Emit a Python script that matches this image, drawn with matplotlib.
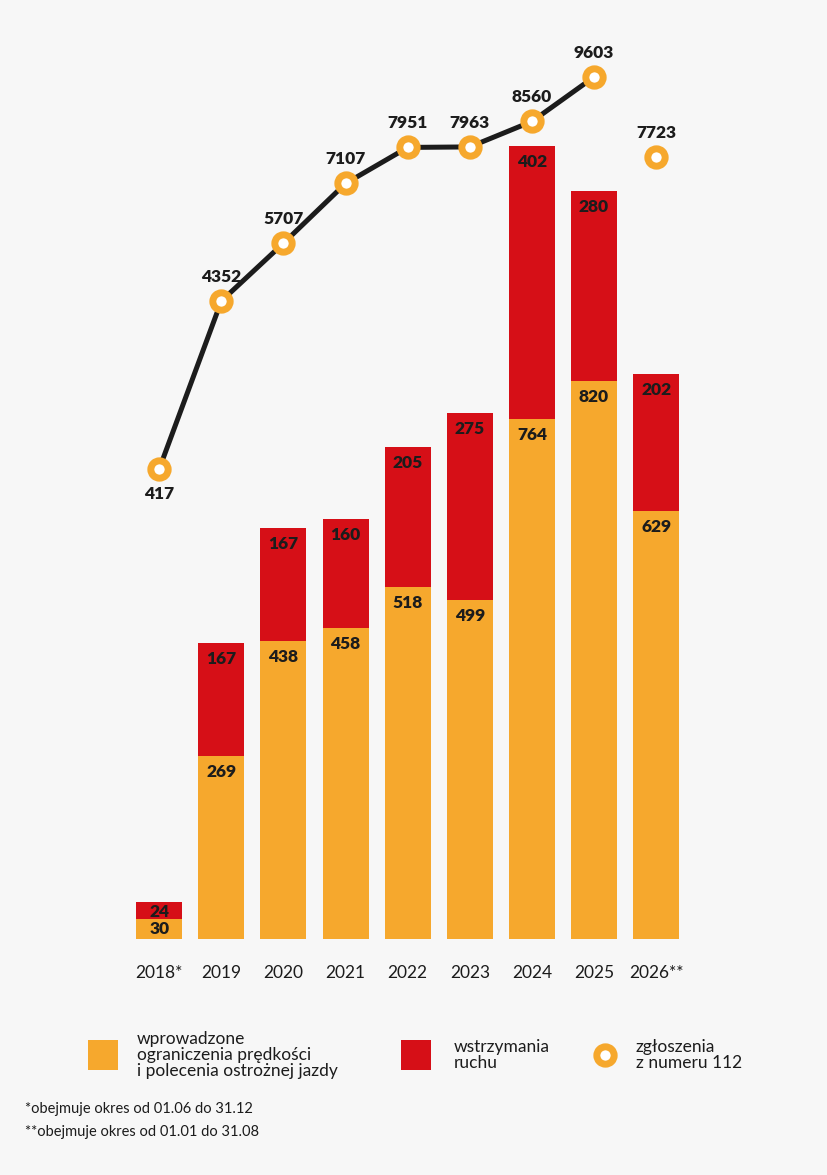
import numpy as np
import matplotlib.pyplot as plt
from matplotlib.patches import Rectangle
from matplotlib.lines import Line2D

years = ['2018*', '2019', '2020', '2021', '2022', '2023', '2024', '2025', '2026**']
limits = [30, 269, 438, 458, 518, 499, 764, 820, 629]      # wprowadzone ograniczenia
stops = [24, 167, 167, 160, 205, 275, 402, 280, 202]       # wstrzymania ruchu
calls = [417, 4352, 5707, 7107, 7951, 7963, 8560, 9603]    # zgloszenia 112 (2018-2025)
calls_2026 = 7723

colorOrange = '#F6A82D'
colorRed = '#D60F17'
colorDark = '#1c1c1c'
bg = '#F7F7F7'

plt.rcParams['font.family'] = ['Lato', 'DejaVu Sans']

fig = plt.figure(figsize=(8.27, 11.75), dpi=100, facecolor=bg)
ax = fig.add_axes([0.155, 1 - 939 / 1175, 0.676, (939 - 60) / 1175])
ax.set_facecolor('none')

x = np.arange(len(years))
limits = np.array(limits)
stops = np.array(stops)
width = 0.74

ax.bar(x, limits, width=width, color=colorOrange, edgecolor='none')
ax.bar(x, stops, bottom=limits, width=width, color=colorRed, edgecolor='none')

lab = dict(ha='center', va='center', fontsize=12.5, fontweight='heavy', color=colorDark)
for i in range(len(x)):
    off = -10 if limits[i] + stops[i] < 100 else -16
    ax.annotate(str(limits[i]), (x[i], limits[i]), xytext=(0, off), textcoords='offset pixels', **lab)
    ax.annotate(str(stops[i]), (x[i], limits[i] + stops[i]), xytext=(0, off), textcoords='offset pixels', **lab)

ax.set_xlim(-0.5, len(x) - 0.5)
ax.set_ylim(0, (939 - 60) / 0.68)
ax.set_xticks(x)
ax.set_xticklabels(years, fontsize=12.5, color=colorDark)
ax.tick_params(axis='x', length=0, pad=19)
ax.set_yticks([])
for s in ax.spines.values():
    s.set_visible(False)

# line on its own scale
ax2 = ax.twinx()
ax2.set_ylim(-10600, 10000)
ax2.set_yticks([])
for s in ax2.spines.values():
    s.set_visible(False)

mk = dict(marker='o', markersize=12.5, markeredgewidth=5, markeredgecolor=colorOrange,
          markerfacecolor='white')
ax2.plot(x[:len(calls)], calls, color=colorDark, linewidth=3.6, zorder=3, **mk)
ax2.plot([x[-1]], [calls_2026], linestyle='none', zorder=3, **mk)

for i, v in enumerate(calls + [calls_2026]):
    off = -25 if i == 0 else 24
    ax2.annotate(str(v), (x[i], v), xytext=(0, off), textcoords='offset pixels', **lab)

# legend
def px(xp, yp):
    return xp / 827, 1 - yp / 1175

fig.add_artist(Rectangle(px(88, 1070), 30 / 827, 30 / 1175, transform=fig.transFigure,
                         facecolor=colorOrange, edgecolor='none'))
fig.add_artist(Rectangle(px(401, 1070), 30 / 827, 30 / 1175, transform=fig.transFigure,
                         facecolor=colorRed, edgecolor='none'))
fig.add_artist(Line2D([605 / 827], [1 - 1055 / 1175], transform=fig.transFigure, **mk))

lt = dict(fontsize=12.5, color=colorDark, va='center', ha='left', linespacing=1.0)
fig.text(*px(137, 1055), 'wprowadzone\nograniczenia prędkości\ni polecenia ostrożnej jazdy', **lt)
fig.text(*px(454, 1055), 'wstrzymania\nruchu', **lt)
fig.text(*px(636, 1055), 'zgłoszenia\nz numeru 112', **lt)

fig.text(*px(25, 1109), '*obejmuje okres od 01.06 do 31.12', fontsize=10.5, color=colorDark, va='center')
fig.text(*px(25, 1132), '**obejmuje okres od 01.01 do 31.08', fontsize=10.5, color=colorDark, va='center')

fig.savefig('out.png', dpi=100, facecolor=bg)
